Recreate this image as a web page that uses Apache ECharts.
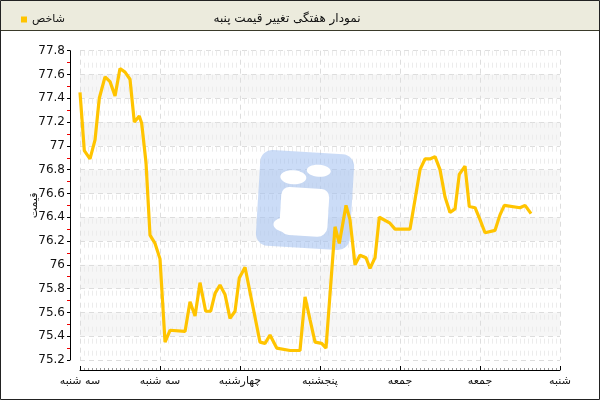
<!DOCTYPE html>
<html><head><meta charset="utf-8">
<script src="https://cdn.jsdelivr.net/npm/echarts@6/dist/echarts.min.js"></script>
<style>html,body{margin:0;padding:0;background:#fff}#c{width:600px;height:400px}</style>
</head><body><div id="c"></div>
<script>
const dayLabels = ['سه شنبه','سه شنبه','چهارشنبه','پنجشنبه','جمعه','جمعه','شنبه'];
const yTicks = {min: 75.2, max: 77.8, interval: 0.2};
const dayPos = [0,0.054,0.125,0.188,0.241,0.313,0.375,0.438,0.5,0.563,0.625,0.679,0.741,0.771,0.825,0.875,0.938,1.0,
  1.063,1.125,1.313,1.375,1.438,1.5,1.571,1.634,1.688,1.75,1.813,1.875,1.938,1.991,
  2.063,2.25,2.313,2.375,2.459,2.625,2.75,2.813,2.875,2.938,3.021,3.075,3.188,3.241,3.325,3.375,3.438,3.5,3.575,3.625,
  3.688,3.741,3.875,3.938,4.125,4.188,4.25,4.313,4.375,4.438,4.5,4.563,4.625,4.688,4.741,4.813,4.866,4.938,
  5.0,5.063,5.188,5.25,5.304,5.5,5.563,5.638];
const price = [77.45,76.96,76.89,77.05,77.40,77.58,77.54,77.42,77.65,77.62,77.56,77.20,77.25,77.19,76.86,76.25,76.18,76.05,
  75.35,75.45,75.44,75.69,75.57,75.85,75.61,75.61,75.76,75.83,75.75,75.55,75.61,75.89,
  75.98,75.35,75.34,75.41,75.30,75.28,75.28,75.73,75.54,75.35,75.34,75.30,76.32,76.18,76.50,76.38,76.00,76.08,76.06,75.97,
  76.06,76.40,76.35,76.30,76.30,76.55,76.80,76.89,76.89,76.91,76.80,76.57,76.44,76.47,76.76,76.83,76.49,76.48,
  76.38,76.27,76.29,76.42,76.50,76.48,76.50,76.43];
const seriesName = 'شاخص';
const chartTitle = 'نمودار هفتگی تغییر قیمت پنبه';
const yName = 'قیمت';

const chart = echarts.init(document.getElementById('c'), null, {renderer: 'canvas'});
const font = 'DejaVu Sans';
const logoZ = 3;
chart.setOption({
  animation: false,
  backgroundColor: '#fff',
  title: {text: chartTitle, left: 282, top: 8, textAlign: 'center',
    textStyle: {fontFamily: font, fontSize: 12, fontWeight: 'normal', color: '#111'}},
  legend: {left: 16, top: 9, itemWidth: 6, itemHeight: 6, itemGap: 3, icon: 'rect',
    textStyle: {fontFamily: font, fontSize: 11, color: '#111'}, data: [seriesName]},
  grid: {left: 80, right: 40, top: 50.7, bottom: 40},
  xAxis: {
    type: 'value', min: 0, max: dayLabels.length - 1, interval: 1,
    offset: 10,
    axisLine: {show: true, onZero: false, lineStyle: {color: '#000', width: 1}},
    axisTick: {show: true, inside: true, length: 4, lineStyle: {color: '#000'}},
    minorTick: {show: true, splitNumber: 20, length: 2, lineStyle: {color: '#999'}},
    axisLabel: {fontFamily: font, fontSize: 11, color: '#111', margin: 6,
      formatter: v => dayLabels[Math.round(v)] || ''},
    splitLine: {show: true, lineStyle: {color: '#ddd', type: [5, 4]}},
    minorSplitLine: {show: true, lineStyle: {color: '#ececec', type: [5, 7]}}
  },
  yAxis: {
    type: 'value', min: yTicks.min, max: yTicks.max, interval: yTicks.interval,
    offset: 10,
    name: yName, nameLocation: 'middle', nameGap: 30, nameRotate: 90, nameMoveOverlap: false,
    nameTextStyle: {fontFamily: font, fontSize: 11, color: '#111'},
    axisLine: {show: true, onZero: false, lineStyle: {color: '#000', width: 1}},
    axisTick: {show: true, length: 3, lineStyle: {color: '#000'}},
    minorTick: {show: true, splitNumber: 2, length: 3, lineStyle: {color: '#e00'}},
    axisLabel: {fontFamily: font, fontSize: 12, color: '#111', margin: 5,
      formatter: v => String(Math.round(v * 10) / 10)},
    splitLine: {show: true, lineStyle: {color: '#ddd', type: [5, 4]}},
    splitArea: {show: true, areaStyle: {color: ['rgba(255,255,255,0)', '#f6f6f6']}}
  },
  graphic: [
    {type: 'rect', shape: {x: 0, y: 0, width: 600, height: 30}, style: {fill: '#ecebdd'}, z: -10, silent: true},
    {type: 'line', shape: {x1: 0, y1: 30.5, x2: 600, y2: 30.5}, style: {stroke: '#3a3a2a', lineWidth: 1}, z: 50},
    {type: 'rect', shape: {x: 0.5, y: 0.5, width: 599, height: 399}, style: {fill: null, stroke: '#222', lineWidth: 1}, z: 50},
    {type: 'group', x: 305, y: 200, rotation: -0.06, z: logoZ, silent: true, children: [
      {type: 'rect', z: logoZ, shape: {x: -47, y: -48, width: 94, height: 96, r: 12}, style: {fill: 'rgba(160,192,240,0.55)'}},
      {type: 'ellipse', z: logoZ, shape: {cx: 12, cy: -30, rx: 12, ry: 6}, style: {fill: '#fff'}},
      {type: 'ellipse', z: logoZ, shape: {cx: -13, cy: -22, rx: 13, ry: 7}, style: {fill: '#fff'}},
      {type: 'rect', z: logoZ, shape: {x: -24, y: -12, width: 48, height: 48, r: [8, 8, 10, 10]}, style: {fill: '#fff'}},
      {type: 'ellipse', z: logoZ, shape: {cx: -18, cy: 26, rx: 12, ry: 7}, style: {fill: '#fff'}}
    ]}
  ],
  series: [{
    name: seriesName, type: 'line', showSymbol: false, symbol: 'none',
    color: '#ffc400', lineStyle: {width: 3.2, color: '#ffc400'}, z: 5,
    data: dayPos.map((d, i) => [d, price[i]])
  }]
});
</script></body></html>
